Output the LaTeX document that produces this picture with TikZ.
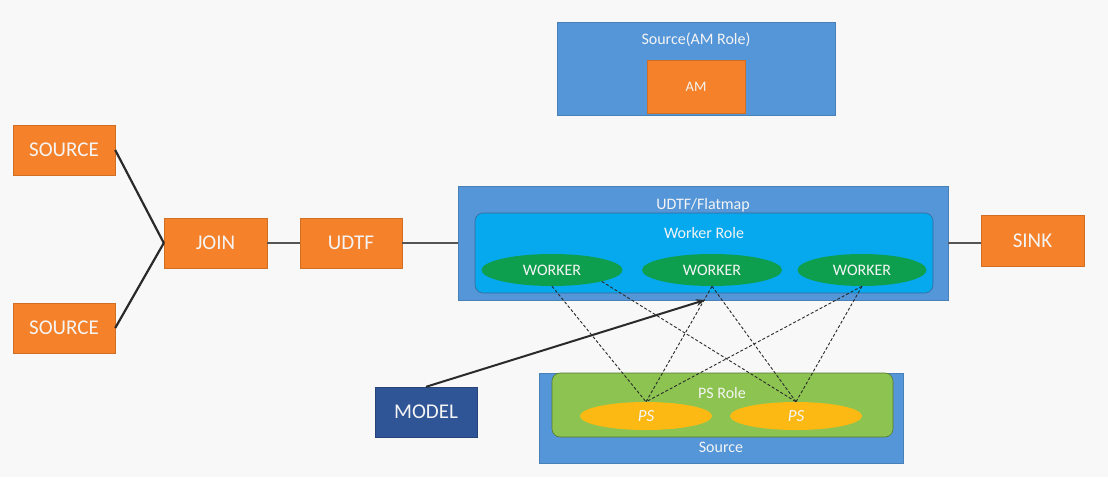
\documentclass[tikz,border=0pt]{standalone}
\usepackage{fontspec}
\setmainfont{Carlito}
\usetikzlibrary{shapes.geometric,arrows.meta}
\definecolor{bg}{HTML}{F8F8F8}
\definecolor{orng}{HTML}{F5822A}
\definecolor{outerblue}{HTML}{5596D8}
\definecolor{innerblue}{HTML}{06A8EE}
\definecolor{wgreen}{HTML}{0E9F4E}
\definecolor{psgreen}{HTML}{8DC451}
\definecolor{psyellow}{HTML}{FDB913}
\definecolor{modelblue}{HTML}{2F5597}
\definecolor{txt}{HTML}{F4F4F4}
\definecolor{edge}{HTML}{2A2A2A}
\tikzset{
  obox/.style={fill=orng, draw=orng!85!black, line width=0.4pt, inner sep=0pt, text=txt, font=\fontsize{21}{24}\selectfont},
  bluebox/.style={fill=outerblue, draw=outerblue!85!black, line width=0.4pt, inner sep=0pt},
  rolebox/.style={draw=outerblue!70!black, line width=0.6pt, rounded corners=8pt, inner sep=0pt},
  wkr/.style={ellipse, fill=wgreen, inner sep=0pt, text=txt, font=\fontsize{16}{18}\selectfont},
  psell/.style={ellipse, fill=psyellow, inner sep=0pt, text=txt, font=\fontsize{17}{19}\selectfont\itshape},
  lbl/.style={text=txt, inner sep=0pt, font=\fontsize{16}{18}\selectfont},
  thick line/.style={draw=edge, line width=2.2pt},
  thin line/.style={draw=edge!80, line width=1.2pt},
  dline/.style={draw=edge, line width=0.9pt, dash pattern=on 3pt off 2pt},
}
\begin{document}
\begin{tikzpicture}[x=1pt,y=-1pt]
\fill[bg] (0,0) rectangle (1108,477);
\useasboundingbox (0,0) rectangle (1108,477);

% AM role
\node[bluebox, minimum width=278pt, minimum height=93pt] (amrole) at (696,68.5) {};
\node[lbl] (amlbl) at (696,40) {Source(AM Role)};
\node[obox, minimum width=98pt, minimum height=53pt, font=\fontsize{14.5}{17}\selectfont] (am) at (696,86.5) {AM};

% left chain
\node[obox, minimum width=102pt, minimum height=50pt] (src1) at (64,150) {SOURCE};
\node[obox, minimum width=102pt, minimum height=50pt] (src2) at (64,328) {SOURCE};
\node[obox, minimum width=103pt, minimum height=50pt] (join) at (215.5,243) {JOIN};
\node[obox, minimum width=102pt, minimum height=50pt] (udtf) at (351,243) {UDTF};

% UDTF/Flatmap
\node[bluebox, minimum width=490pt, minimum height=114pt] (outer) at (703,243) {};
\node[lbl] (outerlbl) at (703,205) {UDTF/Flatmap};
\node[rolebox, fill=innerblue, minimum width=458pt, minimum height=80pt] (wrole) at (704,253) {};
\node[lbl] (wrolelbl) at (704,233) {Worker Role};
\node[wkr, minimum width=141pt, minimum height=32pt] (w1) at (552,270) {WORKER};
\node[wkr, minimum width=140pt, minimum height=32pt] (w2) at (712,270) {WORKER};
\node[wkr, minimum width=129pt, minimum height=32pt] (w3) at (862,270) {WORKER};

% SINK
\node[obox, minimum width=103pt, minimum height=51pt] (sink) at (1032.5,240.5) {SINK};

% MODEL
\node[fill=modelblue, draw=modelblue!80!black, line width=0.4pt, inner sep=0pt, minimum width=102pt, minimum height=50pt, text=txt, font=\fontsize{21}{24}\selectfont] (model) at (426,412) {MODEL};

% PS
\node[bluebox, minimum width=364pt, minimum height=90pt] (psouter) at (721,418) {};
\node[lbl] (pssrc) at (721,447) {Source};
\node[rolebox, fill=psgreen, draw=psgreen!60!black, minimum width=341pt, minimum height=64pt] (psrole) at (722.5,405) {};
\node[lbl] (psrolelbl) at (722,393) {PS Role};
\node[psell, minimum width=132pt, minimum height=28pt] (ps1) at (646,416) {PS};
\node[psell, minimum width=132pt, minimum height=28pt] (ps2) at (796,416) {PS};

% connectors
\draw[thick line] (src1.east) -- (join.west);
\draw[thick line] (src2.east) -- (join.west);
\draw[thin line] (join.east) -- (udtf.west);
\draw[thin line] (udtf.east) -- (outer.west);
\draw[thin line] (outer.east) -- (outer.east -| sink.west);

\draw[dline] (w1.south) -- (ps1.north);
\draw[dline] (w1.-13) -- (ps2.north);
\draw[dline] (w2.south) -- (ps1.north);
\draw[dline] (w2.south) -- (ps2.north);
\draw[dline] (w3.south) -- (ps1.north);
\draw[dline] (w3.south) -- (ps2.north);

\coordinate (mtip) at (705,300);
\draw[draw=edge, line width=2pt, -{Stealth[length=9pt,width=7pt]}] (model.north) -- (mtip);
\end{tikzpicture}
\end{document}
